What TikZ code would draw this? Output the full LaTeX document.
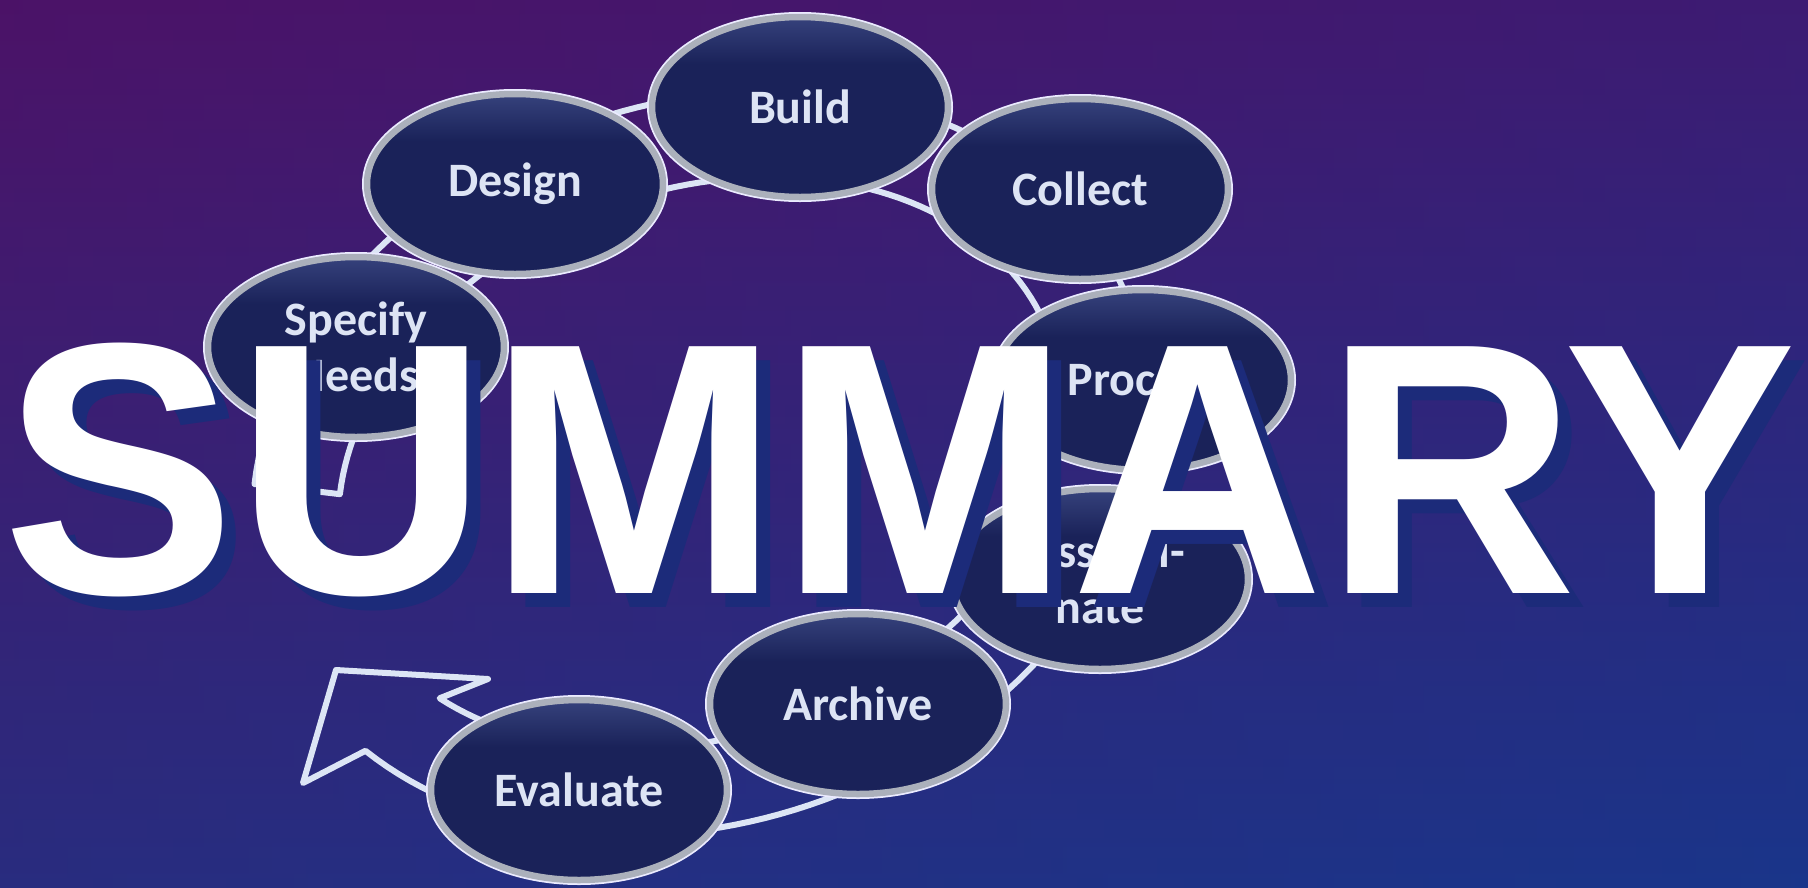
\documentclass[tikz,border=0pt]{standalone}
\usepackage{graphicx}
\usepackage{fontspec}
\setmainfont{Carlito}
\newfontfamily\sumfont{Liberation Sans}
\usetikzlibrary{shapes.geometric}
\definecolor{bgtop}{HTML}{48136A}
\definecolor{bgmid}{HTML}{381E72}
\definecolor{bgbot}{HTML}{1B3488}
\definecolor{bgleft}{HTML}{5A1260}
\definecolor{bgright}{HTML}{163A92}
\definecolor{navy}{HTML}{1A2259}
\definecolor{navylight}{HTML}{36427C}
\definecolor{silver}{HTML}{ABB0BB}
\definecolor{bandc}{HTML}{DCE5F5}
\definecolor{txt}{HTML}{DDE4F4}
\definecolor{shadowc}{HTML}{1C2B7A}
\pgfdeclareverticalshading{bevel}{100bp}{color(0bp)=(navy); color(62bp)=(navy); color(75bp)=(navylight); color(100bp)=(navylight)}
\tikzset{
  stage/.style={shape=ellipse, minimum width=296pt, minimum height=180pt, inner sep=0pt,
    shade, shading=bevel, draw=silver, line width=6.5pt,
    preaction={draw=white!92!blue, line width=10pt},
    text=txt, font=\bfseries\fontsize{48}{56}\selectfont, align=center},
  band/.style={draw=bandc, line width=6pt, line join=round},
  title/.style={anchor=base west, inner sep=0pt, font=\sumfont\bfseries\fontsize{350}{350}\selectfont},
  declare function={
    nrm(\tpar) = sqrt((3.16*cos(\tpar))^2+(4.15*sin(\tpar))^2);
    lx(\tpar,\dpar) = 415*cos(\tpar) + \dpar*3.16*cos(\tpar)/nrm(\tpar);
    ly(\tpar,\dpar) = 316*sin(\tpar) + \dpar*4.15*sin(\tpar)/nrm(\tpar);
    bx(\tpar,\dpar) = 700 + lx(\tpar,\dpar)*cos(20) - ly(\tpar,\dpar)*sin(20);
    by(\tpar,\dpar) = -463 + lx(\tpar,\dpar)*sin(20) + ly(\tpar,\dpar)*cos(20);
  }
}
\begin{document}
\begin{tikzpicture}[x=1pt,y=1pt]
\useasboundingbox (0,0) rectangle (1808,-887);
% background
\shade[top color=bgtop, middle color=bgmid, bottom color=bgbot] (0,0) rectangle (1808,-887);
\shade[left color=bgleft, right color=bgright, opacity=0.22] (0,0) rectangle (1808,-887);
% circular hollow arrow
\coordinate (tip) at (336,-670);
\coordinate (barbR) at (488,-679);
\coordinate (barbL) at (303,-783);
\draw[band] plot[domain=-155:159, samples=160, variable=\t] ({bx(\t,43)},{by(\t,43)})
  -- plot[domain=159:-150, samples=160, variable=\t] ({bx(\t,-43)},{by(\t,-43)})
  -- (barbR) -- (tip) -- (barbL) -- cycle;
% stages
\node[stage] (design) at (515,-184) {Design};
\node[stage] (build) at (800,-107) {Build};
\node[stage] (collect) at (1080,-189) {Collect};
\node[stage] (process) at (1143,-380) {Process};
\node[stage] (dissem) at (1100,-579) {Dissemi-\\nate};
\node[stage] (archive) at (858,-704) {Archive};
\node[stage] (evaluate) at (579,-790) {Evaluate};
\node[stage] (specify) at (356,-347) {Specify\\Needs};
% title
\node[title, text=shadowc] (titleshadow) at (16,-607) {\scalebox{1}[1.025]{SUMMARY}};
\node[title, text=white] (title) at (2,-593) {\scalebox{1}[1.025]{SUMMARY}};
\end{tikzpicture}
\end{document}
